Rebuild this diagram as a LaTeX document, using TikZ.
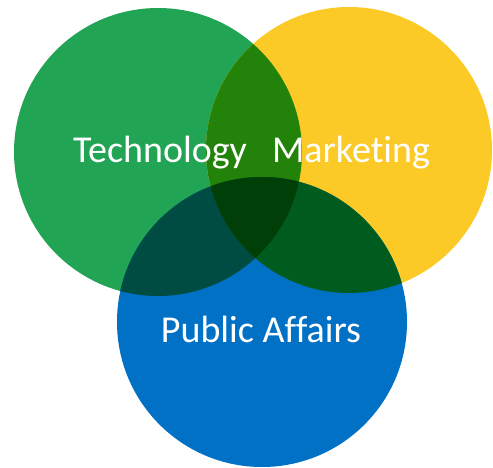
\documentclass[tikz,border=0pt]{standalone}
\usepackage{fontspec}
\setmainfont[Ligatures=NoCommon]{Carlito}
\definecolor{cg}{HTML}{22A455}
\definecolor{cy}{HTML}{FCCA26}
\definecolor{cb}{HTML}{0071C5}
\definecolor{cgy}{HTML}{22820A}
\definecolor{cgb}{HTML}{004C42}
\definecolor{cyb}{HTML}{005C1E}
\definecolor{cgyb}{HTML}{003F08}
\tikzset{lbl/.style={text=white,font=\fontsize{38}{42}\selectfont,inner sep=0pt,anchor=base}}
\begin{document}
\begin{tikzpicture}[x=1pt,y=-1pt]
\useasboundingbox (0,0) rectangle (493,468);
\def\G{(158,152) circle (144)}
\def\Y{(349,150) circle (143)}
\def\B{(262,322) circle (145)}
\fill[cg] \G;
\fill[cy] \Y;
\fill[cb] \B;
\begin{scope}\clip \G; \fill[cgy] \Y; \end{scope}
\begin{scope}\clip \G; \fill[cgb] \B; \end{scope}
\begin{scope}\clip \Y; \fill[cyb] \B; \end{scope}
\begin{scope}\clip \G; \clip \Y; \fill[cgyb] \B; \end{scope}
\node[lbl] (tech) at (160,163) {Technology};
\node[lbl] (mkt) at (351,163) {Marketing};
\node[lbl] (pa) at (261,342) {Public Affairs};
\end{tikzpicture}
\end{document}
